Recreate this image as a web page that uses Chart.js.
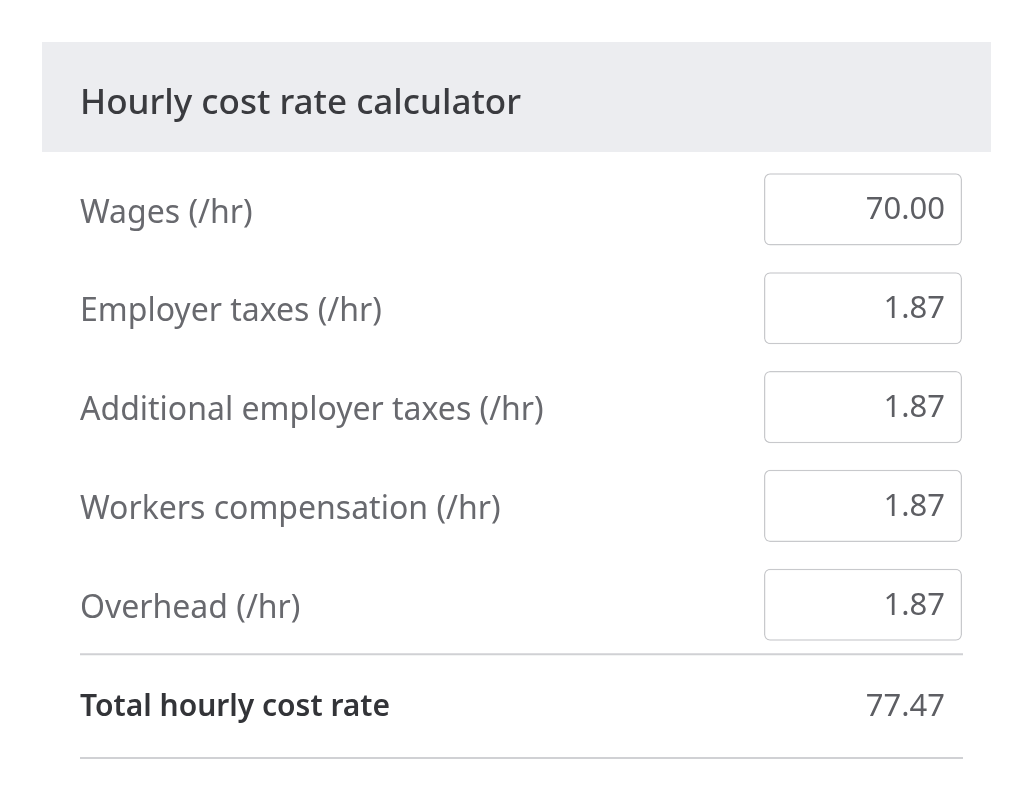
<!DOCTYPE html>
<html>
<head>
<meta charset="utf-8">
<script src="https://cdn.jsdelivr.net/npm/chart.js@4.4.1/dist/chart.umd.min.js"></script>
<style>
  html, body { margin: 0; background: #fff; }
  #wrap { width: 1024px; height: 809px; }
</style>
</head>
<body>
<div id="wrap"><canvas id="c"></canvas></div>
<script>
const titleText = "Hourly cost rate calculator";
const rowLabels = [
  "Wages (/hr)",
  "Employer taxes (/hr)",
  "Additional employer taxes (/hr)",
  "Workers compensation (/hr)",
  "Overhead (/hr)",
  "Total hourly cost rate",
];
const inputValues = [70.0, 1.87, 1.87, 1.87, 1.87, null];
const totalValue = 77.47;

const FONT = "'Noto Sans', Lato, sans-serif";
const LAST = rowLabels.length - 1;

// input fields fill the whole value column; the total row has no field
const fieldData = inputValues.map((v) => (v === null ? null : 1));

const formChrome = {
  id: "formChrome",
  beforeDraw(chart) {
    const { ctx } = chart;
    const tb = chart.titleBlock;
    ctx.save();
    ctx.fillStyle = "#fff";
    ctx.fillRect(0, 0, chart.width, chart.height);
    // grey header band
    ctx.fillStyle = "#ecedf0";
    ctx.fillRect(42, tb.top, 949, tb.bottom - tb.top - 8);
    ctx.restore();
  },
  afterDatasetsDraw(chart) {
    const { ctx, chartArea, scales } = chart;
    const y = scales.y;
    ctx.save();
    // values inside fields and the total
    ctx.textAlign = "right";
    ctx.textBaseline = "middle";
    ctx.font = "31px " + FONT;
    ctx.fillStyle = "#5d5e63";
    rowLabels.forEach((_, i) => {
      const v = inputValues[i] === null ? totalValue : inputValues[i];
      const off = i === LAST ? 4 : 1;
      ctx.fillText(v.toFixed(2), chartArea.right - 17, y.getPixelForValue(i) + off);
    });
    // divider lines above and below the total row
    ctx.strokeStyle = "#d0d1d4";
    ctx.lineWidth = 2;
    const lineY = [
      (y.getPixelForValue(LAST - 1) + y.getPixelForValue(LAST)) / 2,
      chartArea.bottom + 5,
    ];
    lineY.forEach((ly) => {
      ctx.beginPath();
      ctx.moveTo(y.left, ly);
      ctx.lineTo(chartArea.right + 1, ly);
      ctx.stroke();
    });
    ctx.restore();
  },
};

new Chart(document.getElementById("c"), {
  type: "bar",
  data: {
    labels: rowLabels,
    datasets: [
      {
        data: fieldData,
        backgroundColor: "#ffffff",
        borderColor: "#c8c9cc",
        borderWidth: 1.5,
        borderRadius: 6,
        borderSkipped: false,
        barPercentage: 0.73,
        categoryPercentage: 1,
      },
    ],
  },
  options: {
    indexAxis: "y",
    responsive: true,
    maintainAspectRatio: false,
    animation: false,
    layout: { padding: { top: 42, left: 80, right: 62, bottom: 56 } },
    plugins: {
      legend: { display: false },
      tooltip: { enabled: false },
      title: {
        display: true,
        text: titleText,
        align: "start",
        color: "#3a3b3f",
        font: { family: FONT, size: 35, weight: "500", lineHeight: 1.2 },
        padding: { top: 41, bottom: 35 },
      },
    },
    scales: {
      x: { display: false, min: 0, max: 1 },
      y: {
        offset: true,
        grid: { display: false },
        border: { display: false },
        afterFit(scale) {
          scale.width = 684;
        },
        ticks: {
          crossAlign: "far",
          labelOffset: 4,
          color: (c) => (c.index === LAST ? "#333438" : "#68696e"),
          font: (c) => ({
            family: FONT,
            size: c.index === LAST ? 30 : 32,
            weight: c.index === LAST ? "600" : "normal",
          }),
        },
      },
    },
  },
  plugins: [formChrome],
});
</script>
</body>
</html>
